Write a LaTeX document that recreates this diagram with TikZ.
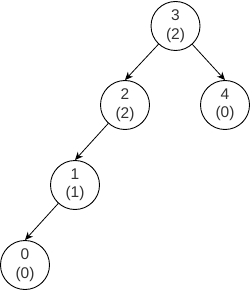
\documentclass[tikz,border=0pt]{standalone}
\usepackage{fontspec}
\setmainfont{Liberation Sans}
\usetikzlibrary{arrows.meta}
\begin{document}
\begin{tikzpicture}[x=1pt,y=-1pt,
  treenode/.style={circle,draw,line width=0.9pt,minimum size=49pt,inner sep=0pt,align=center,
    font=\fontsize{15.5}{18.5}\selectfont,text=black!80},
  edge/.style={draw,line width=0.8pt,-{Stealth[length=8pt,width=7pt,inset=2.5pt]}}]
\useasboundingbox (0,0) rectangle (251,291);
\node[treenode] (n3) at (175.5,26) {3\\(2)};
\node[treenode] (n2) at (125,105) {2\\(2)};
\node[treenode] (n4) at (225,105) {4\\(0)};
\node[treenode] (n1) at (75,185) {1\\(1)};
\node[treenode] (n0) at (25,265) {0\\(0)};
\draw[edge] (n3) -- (n2.north);
\draw[edge] (n3) -- (n4.north);
\draw[edge] (n2) -- (n1.north);
\draw[edge] (n1) -- (n0.north);
\end{tikzpicture}
\end{document}
